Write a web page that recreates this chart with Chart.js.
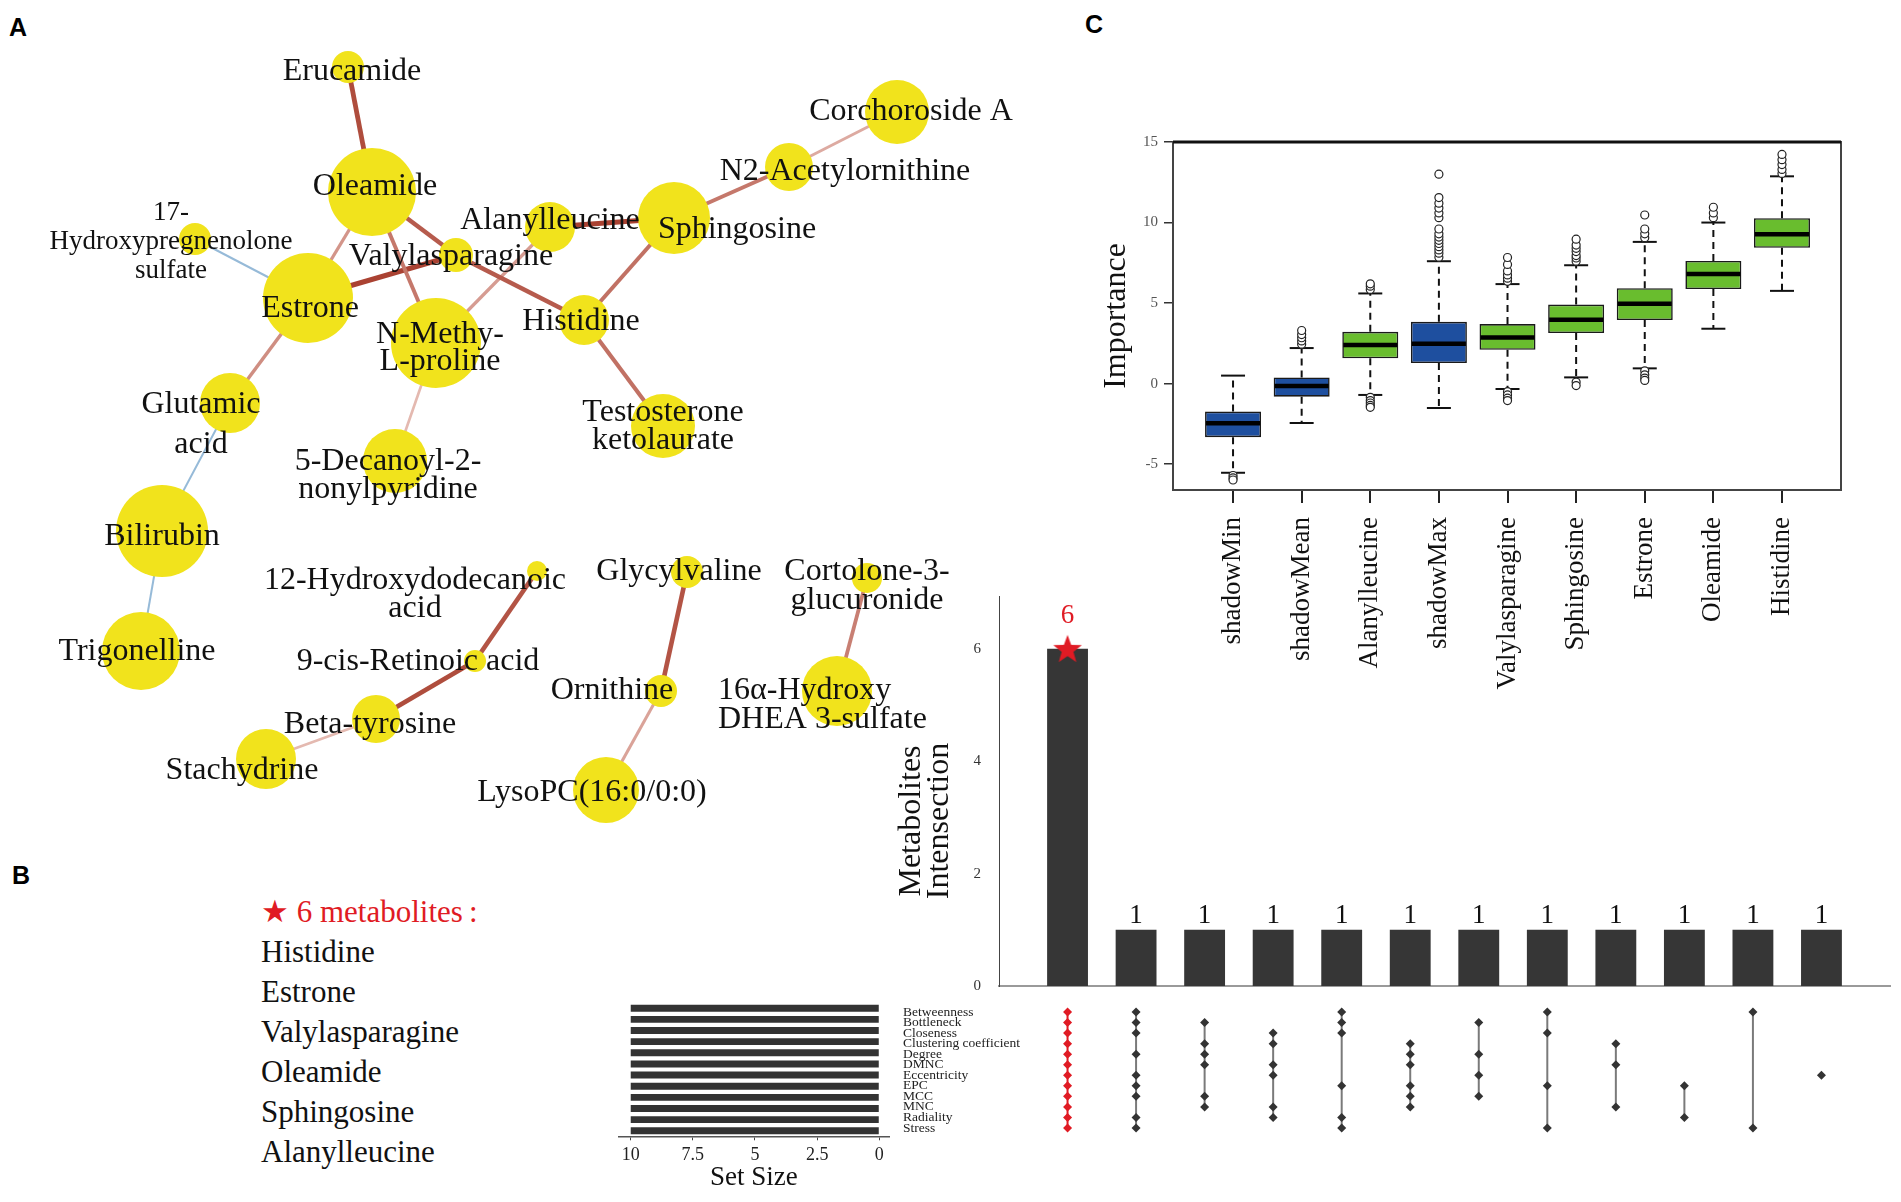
<!DOCTYPE html>
<html>
<head>
<meta charset="utf-8">
<script src="https://cdn.jsdelivr.net/npm/chart.js@4.4.1/dist/chart.umd.min.js"></script>
<style>
  body { margin: 0; background: #fff; }
  #page { position: relative; width: 1901px; height: 1202px; overflow: hidden; font-family: "Liberation Serif", serif; }
  canvas { position: absolute; }
  .tag { position: absolute; font: bold 25px "Liberation Sans", Arial, sans-serif; transform: translate(-50%, -50%); }
  .hub { position: absolute; left: 261px; font-size: 31px; line-height: 40px; color: #111; white-space: nowrap; }
  .hub.head { color: #e01b24; }
</style>
</head>
<body>
<div id="page">
  <div class="tag" style="left:18px;top:27px">A</div>
  <div class="tag" style="left:21px;top:875px">B</div>
  <div class="tag" style="left:1094px;top:24px">C</div>
</div>
<script>
// ---------- A: correlation network ----------
const nodeNames = ['Erucamide', 'Oleamide', 'Corchoroside A', 'N2-Acetylornithine', 'Sphingosine',
  'Alanylleucine', 'Valylasparagine', '17-Hydroxypregnenolone sulfate', 'Estrone', 'N-Methy-L-proline',
  'Histidine', 'Testosterone ketolaurate', 'Glutamic acid', '5-Decanoyl-2-nonylpyridine', 'Bilirubin',
  'Trigonelline', '12-Hydroxydodecanoic acid', 'Glycylvaline', 'Cortolone-3-glucuronide', '9-cis-Retinoic acid',
  'Ornithine', '16α-Hydroxy DHEA 3-sulfate', 'Beta-tyrosine', 'Stachydrine', 'LysoPC(16:0/0:0)'];
// layout coordinates of the network
const nodeX = [34.8, 37.2, 89.7, 78.9, 67.4, 55.0, 45.6, 19.5, 30.8, 43.6, 58.4, 66.3, 23.0, 39.5, 16.2,
  14.1, 53.7, 68.7, 86.7, 47.5, 66.1, 83.7, 37.6, 26.6, 60.6];
const nodeY = [6.7, 19.2, 11.2, 16.7, 21.8, 22.7, 25.5, 23.9, 29.8, 34.3, 32.0, 42.6, 40.3, 46.1, 53.1,
  65.1, 57.1, 57.2, 57.8, 66.1, 69.1, 69.1, 71.9, 75.9, 79.0];
const nodeSize = [1.6, 4.4, 3.2, 2.4, 3.6, 2.5, 1.7, 1.6, 4.5, 4.5, 2.5, 3.2, 3.0, 3.2, 4.6,
  3.9, 1.0, 1.6, 1.5, 1.1, 1.6, 3.5, 2.4, 3.0, 3.3];

const edgeFrom = ['Erucamide', 'Oleamide', 'Oleamide', 'Valylasparagine', 'Oleamide', 'Estrone', 'Estrone',
  'Estrone', 'Alanylleucine', 'N-Methy-L-proline', 'Sphingosine', 'Sphingosine', 'N2-Acetylornithine',
  'Histidine', 'N-Methy-L-proline', 'Glutamic acid', 'Bilirubin', '12-Hydroxydodecanoic acid',
  '9-cis-Retinoic acid', 'Beta-tyrosine', 'Glycylvaline', 'Ornithine', 'Cortolone-3-glucuronide'];
const edgeTo = ['Oleamide', 'Estrone', 'Valylasparagine', 'Histidine', 'N-Methy-L-proline', 'Valylasparagine',
  '17-Hydroxypregnenolone sulfate', 'Glutamic acid', 'Sphingosine', 'Alanylleucine', 'Histidine',
  'N2-Acetylornithine', 'Corchoroside A', 'Testosterone ketolaurate', '5-Decanoyl-2-nonylpyridine',
  'Bilirubin', 'Trigonelline', '9-cis-Retinoic acid', 'Beta-tyrosine', 'Stachydrine', 'Ornithine',
  'LysoPC(16:0/0:0)', '16α-Hydroxy DHEA 3-sulfate'];
const edgeCorr = [0.92, 0.72, 0.88, 0.88, 0.80, 0.95, -0.70, 0.74, 0.95, 0.70, 0.82, 0.80, 0.66,
  0.82, 0.62, -0.70, -0.70, 0.90, 0.92, 0.62, 0.90, 0.68, 0.78];

// ---------- C: Boruta importance ----------
const boxCats = ['shadowMin', 'shadowMean', 'Alanylleucine', 'shadowMax', 'Valylasparagine',
  'Sphingosine', 'Estrone', 'Oleamide', 'Histidine'];
const boxQ1 = [-3.32, -0.81, 1.57, 1.28, 2.10, 3.14, 3.95, 5.87, 8.43];
const boxMedian = [-2.46, -0.14, 2.40, 2.48, 2.87, 3.97, 4.96, 6.80, 9.27];
const boxQ3 = [-1.73, 0.39, 3.22, 3.84, 3.70, 4.91, 5.93, 7.62, 10.27];
const boxLow = [-5.53, -2.44, -0.70, -1.51, -0.33, 0.39, 0.95, 3.41, 5.76];
const boxHigh = [0.50, 2.21, 5.60, 7.60, 6.18, 7.35, 8.80, 10.00, 12.87];
const boxOutliers = [
  [-5.70, -5.85, -5.98],
  [2.45, 2.65, 2.85, 3.05, 3.30],
  [5.85, 6.05, 6.20, -0.85, -1.05, -1.20, -1.35, -1.47],
  [7.85, 8.1, 8.3, 8.5, 8.7, 8.9, 9.1, 9.3, 9.6, 10.3, 10.6, 10.9, 11.2, 11.55, 13.0],
  [6.35, 6.55, 6.75, 7.0, 7.4, 7.83, -0.5, -0.7, -0.9, -1.05],
  [7.6, 7.8, 7.95, 8.2, 8.4, 8.6, 8.97, 0.1, -0.12],
  [9.06, 9.3, 9.6, 10.47, 0.8, 0.55, 0.35, 0.2],
  [10.3, 10.6, 10.95],
  [13.05, 13.3, 13.6, 13.9, 14.23]
];
const importanceTicks = [-5, 0, 5, 10, 15];

// ---------- B: UpSet of cytoHubba methods ----------
const setNames = ['Betweenness', 'Bottleneck', 'Closeness', 'Clustering coefficient', 'Degree', 'DMNC',
  'Eccentricity', 'EPC', 'MCC', 'MNC', 'Radiality', 'Stress'];
const setSizes = [10, 10, 10, 10, 10, 10, 10, 10, 10, 10, 10, 10];
const setSizeTicks = [10, 7.5, 5, 2.5, 0];
const interCounts = [6, 1, 1, 1, 1, 1, 1, 1, 1, 1, 1, 1];
const interMembers = [
  [0, 1, 2, 3, 4, 5, 6, 7, 8, 9, 10, 11],
  [0, 1, 2, 4, 6, 7, 8, 10, 11],
  [1, 3, 4, 5, 8, 9],
  [2, 3, 5, 6, 9, 10],
  [0, 1, 2, 7, 10, 11],
  [3, 4, 5, 7, 8, 9],
  [1, 4, 6, 8],
  [0, 2, 7, 11],
  [3, 5, 9],
  [7, 10],
  [0, 11],
  [6]
];
const interTicks = [0, 2, 4, 6];
const interTitle = ['Metabolites', 'Intensection'];
const hubMetabolites = ['Histidine', 'Estrone', 'Valylasparagine', 'Oleamide', 'Sphingosine', 'Alanylleucine'];

// ---------- styling ----------
const RED = '#e01b24';
const YELLOW = '#f1e31c';
const SERIF = '"Liberation Serif", "Times New Roman", serif';
Chart.defaults.font.family = SERIF;
Chart.defaults.color = '#111';
Chart.defaults.animation = false;
Chart.defaults.events = [];
Chart.defaults.plugins.legend.display = false;
Chart.defaults.plugins.tooltip.enabled = false;

const page = document.getElementById('page');
function makeCanvas(left, top, w, h) {
  const c = document.createElement('canvas');
  c.width = w; c.height = h;
  c.style.left = left + 'px'; c.style.top = top + 'px';
  c.style.width = w + 'px'; c.style.height = h + 'px';
  page.appendChild(c);
  return c;
}

// ---------- A ----------
const labelLayout = {
  'Erucamide': {dx: 4, dy: 5},
  'Oleamide': {dx: 3, dy: -5},
  'Corchoroside A': {dx: 14, dy: 0},
  'N2-Acetylornithine': {dx: 56, dy: 5},
  'Sphingosine': {dx: 63, dy: 12},
  'Alanylleucine': {dx: 0, dy: -6},
  'Valylasparagine': {dx: -5, dy: 2},
  '17-Hydroxypregnenolone sulfate': {dx: -24, dy: 3, lines: ['17-', 'Hydroxypregnenolone', 'sulfate'], lh: 29, size: 27},
  'Estrone': {dx: 2, dy: 11},
  'N-Methy-L-proline': {dx: 4, dy: 5, lines: ['N-Methy-', 'L-proline'], lh: 27},
  'Histidine': {dx: -3, dy: 2},
  'Testosterone ketolaurate': {dx: 0, dy: 1, lines: ['Testosterone', 'ketolaurate'], lh: 28},
  'Glutamic acid': {dx: -29, dy: 22, lines: ['Glutamic', 'acid'], lh: 40},
  '5-Decanoyl-2-nonylpyridine': {dx: -7, dy: 15, lines: ['5-Decanoyl-2-', 'nonylpyridine'], lh: 28},
  'Bilirubin': {dx: 0, dy: 6},
  'Trigonelline': {dx: -4, dy: 1},
  '12-Hydroxydodecanoic acid': {dx: -122, dy: 24, lines: ['12-Hydroxydodecanoic', 'acid'], lh: 28},
  'Glycylvaline': {dx: -8, dy: 0},
  'Cortolone-3-glucuronide': {dx: 0, dy: 8, lines: ['Cortolone-3-', 'glucuronide'], lh: 29},
  '9-cis-Retinoic acid': {dx: -57, dy: 1},
  'Ornithine': {dx: -49, dy: 0},
  '16α-Hydroxy DHEA 3-sulfate': {dx: -119, dy: 14, lines: ['16α-Hydroxy', 'DHEA 3-sulfate'], lh: 29, align: 'left'},
  'Beta-tyrosine': {dx: -6, dy: 6},
  'Stachydrine': {dx: -24, dy: 12},
  'LysoPC(16:0/0:0)': {dx: -14, dy: 3}
};

function edgeColor(r) {
  if (r < 0) return 'rgb(150,186,216)';
  const t = Math.min(1, (r - 0.6) / 0.35);
  return `rgb(${Math.round(232 - 62 * t)},${Math.round(192 - 126 * t)},${Math.round(184 - 134 * t)})`;
}
function edgeWidth(r) {
  return r < 0 ? 2 : 2.5 + 2.5 * Math.min(1, (r - 0.6) / 0.35);
}
const nodePoint = name => {
  const i = nodeNames.indexOf(name);
  return {x: nodeX[i], y: nodeY[i]};
};

const netLabels = {
  id: 'netLabels',
  afterDatasetsDraw(chart) {
    const ctx = chart.ctx;
    const meta = chart.getDatasetMeta(0);
    ctx.save();
    ctx.fillStyle = '#111';
    ctx.textBaseline = 'middle';
    nodeNames.forEach((name, i) => {
      const p = meta.data[i];
      const L = labelLayout[name] || {};
      const lines = L.lines || [name];
      const size = L.size || 32;
      const lh = L.lh || size;
      ctx.font = `${size}px ${SERIF}`;
      ctx.textAlign = L.align || 'center';
      const x = p.x + (L.dx || 0);
      const y0 = p.y + (L.dy || 0) - (lines.length - 1) * lh / 2;
      lines.forEach((t, k) => ctx.fillText(t, x, y0 + k * lh));
    });
    ctx.restore();
  }
};

new Chart(makeCanvas(0, 0, 1080, 860), {
  type: 'scatter',
  data: {
    datasets: [
      {
        data: nodeNames.map((n, i) => ({x: nodeX[i], y: nodeY[i]})),
        pointRadius: ctx => nodeSize[ctx.dataIndex] * 10,
        pointBackgroundColor: YELLOW,
        pointBorderWidth: 0,
        order: 0
      },
      ...edgeFrom.map((a, i) => ({
        type: 'line',
        data: [nodePoint(a), nodePoint(edgeTo[i])],
        borderColor: edgeColor(edgeCorr[i]),
        borderWidth: edgeWidth(edgeCorr[i]),
        pointRadius: 0,
        order: 1
      }))
    ]
  },
  options: {
    responsive: false,
    layout: {padding: 0, autoPadding: false},
    scales: {
      x: {type: 'linear', min: 0, max: 108, display: false},
      y: {type: 'linear', min: 0, max: 86, reverse: true, display: false}
    }
  },
  plugins: [netLabels]
});

// ---------- C ----------
const boxFrame = {
  id: 'boxFrame',
  afterDraw(chart) {
    const {ctx, chartArea: a} = chart;
    ctx.save();
    ctx.strokeStyle = '#444';
    ctx.lineWidth = 2;
    ctx.strokeRect(a.left, a.top, a.right - a.left, a.bottom - a.top);
    ctx.strokeStyle = '#111';
    ctx.lineWidth = 3;
    ctx.beginPath();
    ctx.moveTo(a.left, a.top);
    ctx.lineTo(a.right, a.top);
    ctx.stroke();
    ctx.restore();
  }
};

new Chart(makeCanvas(1090, 100, 811, 620), {
  type: 'bar',
  data: {
    datasets: [
      {
        type: 'scatter',
        data: boxOutliers.flatMap((arr, i) => arr.map(v => ({x: i + 1, y: v}))),
        pointStyle: 'circle',
        pointRadius: 4,
        pointBackgroundColor: '#fff',
        pointBorderColor: '#222',
        pointBorderWidth: 1.2,
        order: 0
      },
      {
        type: 'scatter',
        data: boxMedian.map((v, i) => ({x: i + 1, y: v})),
        pointStyle: 'line',
        pointRadius: 27,
        pointBorderColor: '#000',
        pointBorderWidth: 4.5,
        order: 1
      },
      {
        type: 'scatter',
        data: boxLow.flatMap((v, i) => [{x: i + 1, y: v}, {x: i + 1, y: boxHigh[i]}]),
        pointStyle: 'line',
        pointRadius: 12,
        pointBorderColor: '#111',
        pointBorderWidth: 2,
        order: 2
      },
      {
        type: 'bar',
        data: boxCats.map((c, i) => ({x: i + 1, y: [boxQ1[i], boxQ3[i]]})),
        backgroundColor: boxCats.map(c => c.startsWith('shadow') ? '#1e4f9f' : '#69bd2e'),
        borderColor: '#1a1a1a',
        borderWidth: 1.6,
        borderSkipped: false,
        categoryPercentage: 1,
        barPercentage: 0.816,
        order: 3
      },
      {
        type: 'line',
        data: boxCats.flatMap((c, i) => [
          {x: i + 1, y: boxQ3[i]}, {x: i + 1, y: boxHigh[i]}, {x: i + 1, y: null},
          {x: i + 1, y: boxQ1[i]}, {x: i + 1, y: boxLow[i]}, {x: i + 1, y: null}
        ]),
        borderColor: '#111',
        borderWidth: 2,
        borderDash: [7, 5],
        pointRadius: 0,
        spanGaps: false,
        order: 4
      }
    ]
  },
  options: {
    responsive: false,
    layout: {padding: {top: 42, right: 60, left: 0, bottom: 0}, autoPadding: false},
    scales: {
      x: {
        type: 'linear', min: 0.125, max: 9.86, offset: false,
        afterBuildTicks: s => { s.ticks = boxCats.map((c, i) => ({value: i + 1})); },
        afterFit: s => { s.height = 230; },
        ticks: {
          callback: (v, i) => boxCats[i],
          minRotation: 90, maxRotation: 90, autoSkip: false, padding: 14,
          font: {size: 27}, color: '#111'
        },
        grid: {display: true, offset: false, drawOnChartArea: false, drawTicks: true, tickLength: 13, color: '#222', lineWidth: 2},
        border: {display: false}
      },
      y: {
        type: 'linear', min: -6.6, max: 15,
        afterBuildTicks: s => { s.ticks = importanceTicks.map(v => ({value: v})); },
        afterFit: s => { s.width = 83; },
        ticks: {font: {size: 15}, color: '#555', padding: 6},
        grid: {display: true, drawOnChartArea: false, drawTicks: true, tickLength: 9, color: '#333', lineWidth: 1.5},
        border: {display: false},
        title: {display: true, text: 'Importance', font: {size: 32, lineHeight: 1}, color: '#111', padding: {top: 11, bottom: 0}}
      }
    }
  },
  plugins: [boxFrame]
});

// ---------- B: intersection bars ----------
const starImg = document.createElement('canvas');
starImg.width = 32; starImg.height = 32;
(function () {
  const g = starImg.getContext('2d');
  g.fillStyle = RED;
  g.beginPath();
  for (let k = 0; k < 10; k++) {
    const r = k % 2 === 0 ? 15 : 6.2;
    const a = -Math.PI / 2 + k * Math.PI / 5;
    g.lineTo(16 + r * Math.cos(a), 17 + r * Math.sin(a));
  }
  g.closePath();
  g.fill();
})();

const barLabels = {
  id: 'barLabels',
  afterDatasetsDraw(chart) {
    const ctx = chart.ctx;
    const meta = chart.getDatasetMeta(1);
    ctx.save();
    ctx.textAlign = 'center';
    ctx.textBaseline = 'alphabetic';
    ctx.font = `27px ${SERIF}`;
    meta.data.forEach((bar, i) => {
      const hi = i === 0;
      ctx.fillStyle = hi ? RED : '#111';
      ctx.fillText(String(interCounts[i]), bar.x, bar.y - (hi ? 26 : 7));
    });
    ctx.restore();
  }
};

// y title sits lower than the axis middle in the original, so draw it by hand
const sideTitle = {
  id: 'sideTitle',
  afterDraw(chart) {
    const {ctx, chartArea: a} = chart;
    const ys = chart.scales.y;
    ctx.save();
    ctx.translate(ys.left + 46, a.bottom - 165);
    ctx.rotate(-Math.PI / 2);
    ctx.font = `32px ${SERIF}`;
    ctx.fillStyle = '#111';
    ctx.textAlign = 'center';
    ctx.textBaseline = 'middle';
    interTitle.forEach((t, k) => ctx.fillText(t, 0, (k - 0.5) * 28));
    ctx.restore();
  }
};

new Chart(makeCanvas(880, 560, 1021, 445), {
  type: 'bar',
  data: {
    datasets: [
      {
        type: 'scatter',
        data: [{x: 0, y: interCounts[0]}],
        pointStyle: starImg,
        order: 0
      },
      {
        type: 'bar',
        data: interCounts.map((v, i) => ({x: i, y: v})),
        backgroundColor: '#363636',
        categoryPercentage: 1,
        barPercentage: 0.596,
        order: 1
      }
    ]
  },
  options: {
    responsive: false,
    layout: {padding: {top: 36, right: 11, bottom: 3.3, left: 0}, autoPadding: false},
    scales: {
      x: {
        type: 'linear', min: -1, max: 12, offset: false,
        ticks: {display: false},
        grid: {display: false, offset: false},
        border: {display: true, color: '#9a9a9a', width: 2},
        afterFit: s => { s.height = 0; }
      },
      y: {
        type: 'linear', min: 0, max: 6.94,
        afterBuildTicks: s => { s.ticks = interTicks.map(v => ({value: v})); },
        afterFit: s => { s.width = 119; },
        ticks: {font: {size: 15}, color: '#333', padding: 10},
        grid: {display: false},
        border: {display: true, color: '#444', width: 1}
      }
    }
  },
  plugins: [barLabels, sideTitle]
});

// ---------- B: membership matrix ----------
// same x mapping as the bars above (68.54 px per column), but a wider label box
new Chart(makeCanvas(900, 1000, 1001, 140), {
  type: 'scatter',
  data: {
    datasets: [
      {
        data: interMembers.flatMap((rows, c) => rows.map(r => ({x: c, y: r}))),
        pointStyle: 'rectRot',
        pointRadius: 4.5,
        pointBackgroundColor: ctx => ctx.raw.x === 0 ? RED : '#333',
        pointBorderWidth: 0,
        order: 0
      },
      ...interMembers.filter(rows => rows.length > 1).map(rows => {
        const c = interMembers.indexOf(rows);
        return {
          type: 'line',
          data: [{x: c, y: Math.min(...rows)}, {x: c, y: Math.max(...rows)}],
          borderColor: c === 0 ? RED : '#7a7a7a',
          borderWidth: 2,
          pointRadius: 0,
          order: 1
        };
      })
    ]
  },
  options: {
    responsive: false,
    layout: {padding: {top: 2.7, right: 11, bottom: 3.7, left: 3}, autoPadding: false},
    scales: {
      x: {type: 'linear', min: -0.5477, max: 12, display: false},
      y: {
        type: 'linear', min: -0.5, max: 11.5, reverse: true,
        afterBuildTicks: s => { s.ticks = setNames.map((n, i) => ({value: i})); },
        afterFit: s => { s.width = 127; },
        ticks: {callback: (v, i) => setNames[i], autoSkip: false, crossAlign: 'far', padding: 0,
                font: {size: 13.5, lineHeight: 1}, color: '#222'},
        grid: {display: false},
        border: {display: false}
      }
    }
  }
});

// ---------- B: set sizes ----------
new Chart(makeCanvas(600, 1000, 300, 200), {
  type: 'bar',
  data: {
    datasets: [{
      data: setSizes.map((v, i) => ({x: v, y: i})),
      backgroundColor: '#333',
      categoryPercentage: 1,
      barPercentage: 0.62
    }]
  },
  options: {
    responsive: false,
    indexAxis: 'y',
    layout: {padding: {top: 2.7, right: 10.8, bottom: 0, left: 18.3}, autoPadding: false},
    scales: {
      y: {type: 'linear', min: -0.5, max: 11.5, reverse: true, offset: false, display: false},
      x: {
        type: 'linear', min: -0.4, max: 10.5, reverse: true,
        afterBuildTicks: s => { s.ticks = setSizeTicks.map(v => ({value: v})); },
        afterFit: s => { s.height = 63.7; },
        ticks: {font: {size: 18}, color: '#222', padding: 4, callback: v => String(v)},
        grid: {display: true, drawOnChartArea: false, drawTicks: true, tickLength: 4, color: '#444'},
        border: {display: true, color: '#555', width: 1.5},
        title: {display: true, text: 'Set Size', font: {size: 27, lineHeight: 1}, color: '#111', padding: {top: 0, bottom: 8.5}}
      }
    }
  }
});

// ---------- B: hub list ----------
const head = document.createElement('div');
head.className = 'hub head';
head.style.top = '891.7px';
head.textContent = '\u2605 ' + interCounts[0] + ' metabolites\u2009:';
page.appendChild(head);
hubMetabolites.forEach((m, k) => {
  const d = document.createElement('div');
  d.className = 'hub';
  d.style.top = (931.7 + k * 40) + 'px';
  d.textContent = m;
  page.appendChild(d);
});
</script>
</body>
</html>
